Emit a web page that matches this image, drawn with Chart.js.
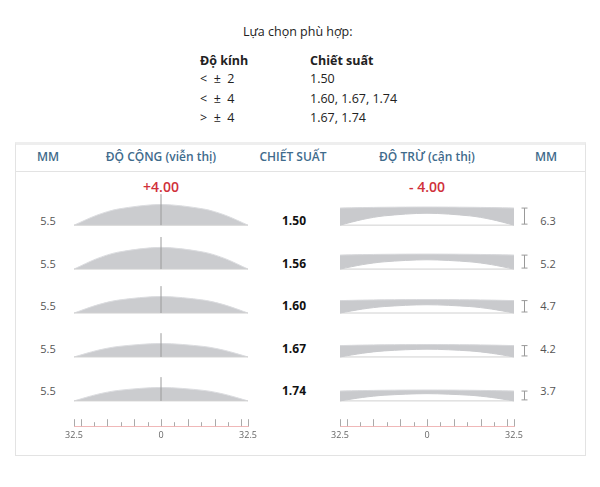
<!DOCTYPE html>
<html><head><meta charset="utf-8">
<script src="https://cdn.jsdelivr.net/npm/chart.js@4"></script>
<style>
body{margin:0;width:600px;height:487px;background:#fff;font-family:"Open Sans","Noto Sans",sans-serif;position:relative;overflow:hidden}
.t{position:absolute;white-space:nowrap}
.c{transform:translateX(-50%)}
.hd{color:#3f6b8c;font-size:12px;font-weight:600;top:148px}
.side{font-size:11px;color:#555}
.idx{font-size:12px;font-weight:bold;color:#111}
.red{color:#d0303a;font-size:14px;font-weight:600;top:177px}
.tb{font-size:12.5px;color:#222}
#box{position:absolute;left:15px;top:142px;width:569px;height:310px;border:1px solid #e3e3e3;border-top:3px solid #eee}
#sep{position:absolute;left:15px;top:171px;width:570px;height:1px;background:#e3e3e3}
canvas{position:absolute}
</style></head><body>
<div id="box"></div><div id="sep"></div>
<div class="t tb" style="left:243px;top:23px">Lựa chọn phù hợp:</div>
<div id="tbl"></div>
<div id="lbl"></div>
<div style="position:absolute;left:50px;top:175px;width:224px;height:270px"><canvas id="cL"></canvas></div>
<div style="position:absolute;left:316px;top:175px;width:224px;height:270px"><canvas id="cR"></canvas></div>
<script>
const tableHead=["Độ kính","Chiết suất"];
const tablePower=["<  ±  2","<  ±  4",">  ±  4"];
const tableIndex=["1.50","1.60, 1.67, 1.74","1.67, 1.74"];
const headers=["MM","ĐỘ CỘNG (viễn thị)","CHIẾT SUẤT","ĐỘ TRỪ (cận thị)","MM"];
const powers=["+4.00","- 4.00"];
const indices=["1.50","1.56","1.60","1.67","1.74"];
const plusMM=[5.5,5.5,5.5,5.5,5.5];
const minusMM=[6.3,5.2,4.7,4.2,3.7];
const plusH=[20,21,16,13,13];
const minusEdgeH=[16.5,13.5,12,11,9.5];
const minusTopH=[17.5,14.5,13,12,10.5];
const minusInnerH=[11.5,9,8,7.5,7];
const axisTicks=[-32.5,-30,-25,-20,-15,-10,-5,0,5,10,15,20,25,30,32.5];
const axisLabels=[-32.5,0,32.5];

let h='';
h+=`<div class="t tb" style="left:200px;top:52px;font-weight:bold">${tableHead[0]}</div><div class="t tb" style="left:310px;top:52px;font-weight:bold">${tableHead[1]}</div>`;
tablePower.forEach((p,i)=>{const y=70+i*19.5;h+=`<div class="t tb" style="left:200px;top:${y}px;white-space:pre">${p}</div><div class="t tb" style="left:310px;top:${y}px">${tableIndex[i]}</div>`;});
document.getElementById('tbl').innerHTML=h;
const hx=[48,161,293,427,546];
h='';headers.forEach((s,i)=>h+=`<div class="t c hd" style="left:${hx[i]}px">${s}</div>`);
h+=`<div class="t c red" style="left:161px">${powers[0]}</div><div class="t c red" style="left:427px">${powers[1]}</div>`;
indices.forEach((s,i)=>{const y=212+i*42.5;
 h+=`<div class="t c side" style="left:48px;top:${y+1}px">${plusMM[i]}</div>`;
 h+=`<div class="t c idx" style="left:294px;top:${y}px">${s}</div>`;
 h+=`<div class="t c side" style="left:548px;top:${y+1}px">${minusMM[i]}</div>`;});
document.getElementById('lbl').innerHTML=h;

const U=42.5;
function xScale(){return{type:'linear',min:-32.5,max:32.5,
 afterBuildTicks:s=>{s.ticks=axisLabels.map(v=>({value:v}))},
 ticks:{callback:v=>Math.abs(v),font:{size:9,family:'Open Sans'},color:'#666',padding:4,maxRotation:0,autoSkip:false},
 grid:{display:false,drawTicks:false},border:{display:true,color:'#f0b8b8'}}}
const yScale={type:'linear',reverse:true,min:-1.141,max:4.576,display:false};
const tickPlugin={id:'tk',afterDraw(c){const x=c.scales.x,ctx=c.ctx,b=c.chartArea.bottom;ctx.save();ctx.strokeStyle='#aaa';ctx.lineWidth=1;
 axisTicks.forEach(v=>{const p=Math.round(x.getPixelForValue(v))+.5;const L=(v%10===0||Math.abs(v)===32.5)?7:4;ctx.beginPath();ctx.moveTo(p,b);ctx.lineTo(p,b-L);ctx.stroke();});
 if(c.canvas.id==='cR'){const y=c.scales.y;ctx.strokeStyle='#999';
  minusEdgeH.forEach((e,i)=>{const xp=x.getPixelForValue(32.5)+10.5,y0=y.getPixelForValue(i)-1,y1=y.getPixelForValue(i-e/U);
   ctx.beginPath();ctx.moveTo(xp,y0);ctx.lineTo(xp,y1);ctx.moveTo(xp-3,y0);ctx.lineTo(xp+3,y0);ctx.moveTo(xp-3,y1);ctx.lineTo(xp+3,y1);ctx.stroke();});}
 ctx.restore();}};
const xs=[-32.5,-24,-16,0,16,24,32.5];
const prof=[0,0.48,0.78,1,0.78,0.48,0];
function curve(i,edge,center){return xs.map((xv,k)=>({x:xv,y:i-(edge+(center-edge)*prof[k])/U}));}
const L=[],R=[];
plusH.forEach((ph,i)=>{
 L.push({data:curve(i,0,ph),fill:{value:i},backgroundColor:'#cbcccf',borderColor:'#dcdde0',borderWidth:1,tension:0.3,pointRadius:0,order:2});
 L.push({data:[{x:-32.5,y:i},{x:32.5,y:i}],borderColor:'#d0d0d0',borderWidth:1,pointRadius:0,fill:false,order:1});
 L.push({data:[{x:0,y:i},{x:0,y:i-(ph+10)/U}],borderColor:'#9a9a9a',borderWidth:1,pointRadius:0,fill:false,order:0});
});
minusEdgeH.forEach((e,i)=>{
 R.push({data:curve(i,e,minusTopH[i]),fill:'+1',backgroundColor:'#c9cacd',borderColor:'#d8d9dc',borderWidth:1,tension:0.3,pointRadius:0});
 R.push({data:curve(i,0,minusInnerH[i]),fill:false,borderColor:'#c9cacd',borderWidth:1,tension:0.3,pointRadius:0});
 R.push({data:[{x:-32.5,y:i},{x:32.5,y:i}],borderColor:'#d0d0d0',borderWidth:1,pointRadius:0,fill:false});
});
function mk(id,ds){new Chart(document.getElementById(id),{type:'line',data:{datasets:ds},plugins:[tickPlugin],
 options:{responsive:true,maintainAspectRatio:false,animation:false,layout:{padding:{left:24,right:26,top:0,bottom:0}},
 plugins:{legend:{display:false},tooltip:{enabled:false}},scales:{x:xScale(),y:yScale}}});}
mk('cL',L);mk('cR',R);
</script></body></html>
